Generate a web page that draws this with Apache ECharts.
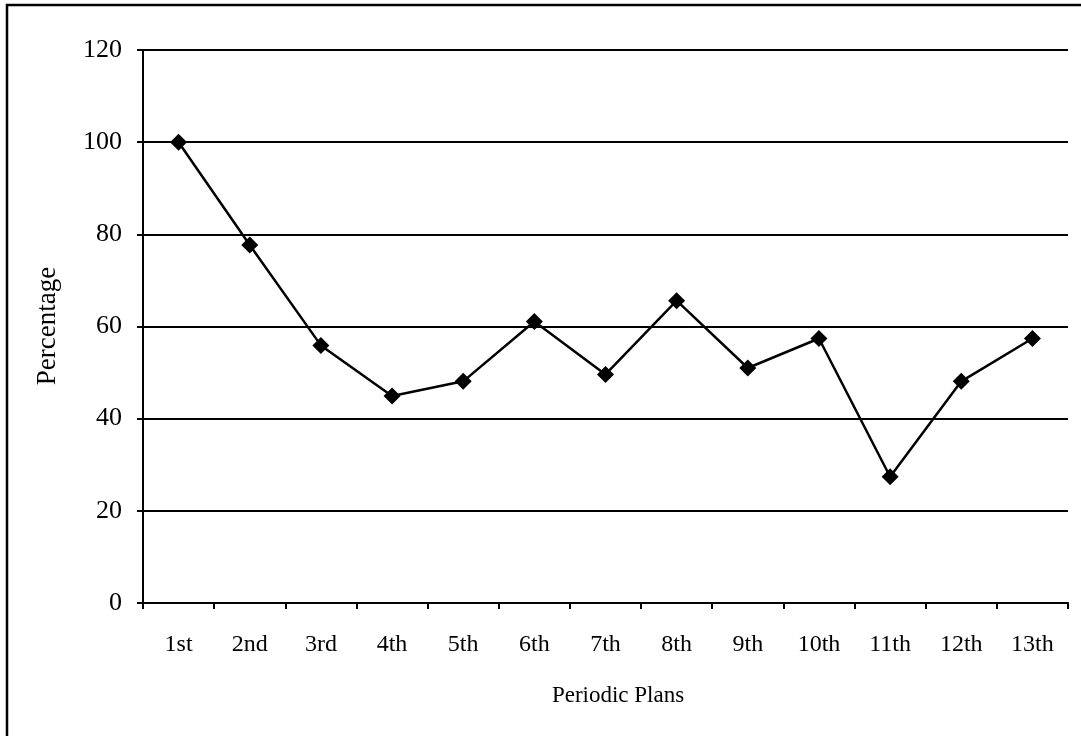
<!DOCTYPE html>
<html>
<head>
<meta charset="utf-8">
<script src="https://cdn.jsdelivr.net/npm/echarts@6/dist/echarts.min.js"></script>
<style>
  html, body { margin: 0; padding: 0; background: #fff; }
  #chart { width: 1081px; height: 736px; }
</style>
</head>
<body>
<div id="chart"></div>
<script>
// Periodic plans along the x axis
const plans = ['1st', '2nd', '3rd', '4th', '5th', '6th', '7th', '8th', '9th', '10th', '11th', '12th', '13th'];
// Percentage for each plan
const percentages = [100, 77.7, 55.9, 44.9, 48.1, 61.1, 49.6, 65.6, 51.0, 57.4, 27.4, 48.1, 57.4];
// Y axis range and step
const yMin = 0;
const yMax = 120;
const yStep = 20;

const serif = '"Liberation Serif", "Times New Roman", serif';
const chart = echarts.init(document.getElementById('chart'), null, { renderer: 'canvas' });

chart.setOption({
  animation: false,
  backgroundColor: '#ffffff',
  grid: { left: 143, right: 13, top: 50, bottom: 133 },
  xAxis: {
    type: 'category',
    data: plans,
    boundaryGap: true,
    axisLine: { lineStyle: { color: '#000', width: 2 } },
    axisTick: { show: true, length: 6, lineStyle: { color: '#000', width: 2 } },
    axisLabel: { color: '#000', fontFamily: serif, fontSize: 24, margin: 30 },
    splitLine: { show: false }
  },
  yAxis: {
    type: 'value',
    min: yMin,
    max: yMax,
    interval: yStep,
    axisLine: { show: true, lineStyle: { color: '#000', width: 2 } },
    axisTick: { show: true, length: 6, lineStyle: { color: '#000', width: 2 } },
    axisLabel: { color: '#000', fontFamily: serif, fontSize: 26, margin: 21 },
    splitLine: { show: true, lineStyle: { color: '#000', width: 2 } }
  },
  series: [{
    type: 'line',
    data: percentages,
    symbol: 'diamond',
    symbolSize: 17,
    itemStyle: { color: '#000' },
    lineStyle: { color: '#000', width: 2.5 }
  }],
  graphic: [
    {
      type: 'rect',
      shape: { x: 7, y: 5, width: 1200, height: 900 },
      style: { fill: null, stroke: '#000', lineWidth: 2.5 },
      silent: true
    },
    {
      type: 'text',
      x: 48, y: 326,
      rotation: Math.PI / 2,
      style: {
        text: 'Percentage',
        font: '27px ' + serif,
        fill: '#000',
        align: 'center',
        verticalAlign: 'middle'
      }
    },
    {
      type: 'text',
      x: 618, y: 696,
      style: {
        text: 'Periodic Plans',
        font: '23px ' + serif,
        fill: '#000',
        align: 'center',
        verticalAlign: 'middle'
      }
    }
  ]
});
</script>
</body>
</html>
